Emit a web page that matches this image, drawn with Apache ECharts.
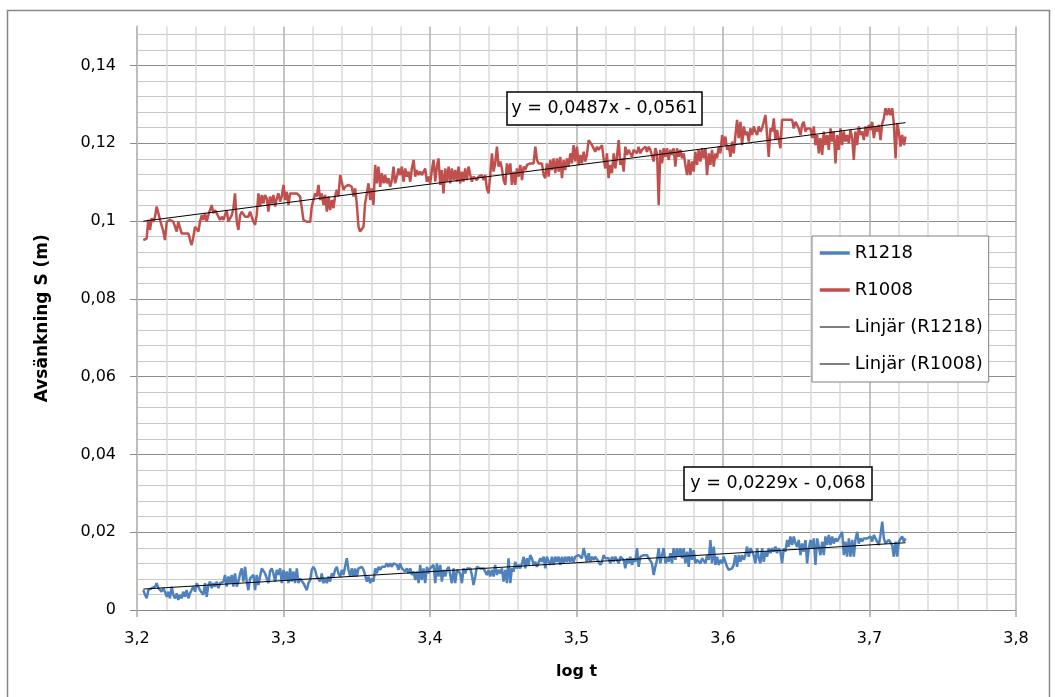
<!DOCTYPE html>
<html>
<head>
<meta charset="utf-8">
<script src="https://cdn.jsdelivr.net/npm/echarts@6.0.0/dist/echarts.min.js"></script>
<style>
html,body{margin:0;padding:0;background:#fff;}
#chart{width:1055px;height:697px;}
</style>
</head>
<body>
<div id="chart"></div>
<script>
// log t values (shared sampling of both series)
const logT = [
3.2043,3.2055,3.2066,3.2077,3.2089,3.2100,3.2112,3.2123,3.2134,3.2146,
3.2157,3.2168,3.2180,3.2191,3.2203,3.2214,3.2225,3.2237,3.2248,3.2260,
3.2271,3.2282,3.2294,3.2305,3.2316,3.2328,3.2339,3.2351,3.2362,3.2373,
3.2385,3.2396,3.2408,3.2419,3.2430,3.2442,3.2453,3.2464,3.2476,3.2487,
3.2499,3.2510,3.2521,3.2533,3.2544,3.2556,3.2567,3.2578,3.2590,3.2601,
3.2612,3.2624,3.2635,3.2647,3.2658,3.2669,3.2681,3.2692,3.2704,3.2715,
3.2726,3.2738,3.2749,3.2760,3.2772,3.2783,3.2795,3.2806,3.2817,3.2829,
3.2840,3.2852,3.2863,3.2874,3.2886,3.2897,3.2908,3.2920,3.2931,3.2943,
3.2954,3.2965,3.2977,3.2988,3.3000,3.3011,3.3022,3.3034,3.3045,3.3056,
3.3068,3.3079,3.3091,3.3102,3.3113,3.3125,3.3136,3.3148,3.3159,3.3170,
3.3182,3.3193,3.3204,3.3216,3.3227,3.3239,3.3250,3.3261,3.3273,3.3284,
3.3296,3.3307,3.3318,3.3330,3.3341,3.3352,3.3364,3.3375,3.3387,3.3398,
3.3409,3.3421,3.3432,3.3444,3.3455,3.3466,3.3478,3.3489,3.3500,3.3512,
3.3523,3.3535,3.3546,3.3557,3.3569,3.3580,3.3592,3.3603,3.3614,3.3626,
3.3637,3.3648,3.3660,3.3671,3.3683,3.3694,3.3705,3.3717,3.3728,3.3740,
3.3751,3.3762,3.3774,3.3785,3.3796,3.3808,3.3819,3.3831,3.3842,3.3853,
3.3865,3.3876,3.3888,3.3899,3.3910,3.3922,3.3933,3.3944,3.3956,3.3967,
3.3979,3.3990,3.4001,3.4013,3.4024,3.4036,3.4047,3.4058,3.4070,3.4081,
3.4092,3.4104,3.4115,3.4127,3.4138,3.4149,3.4161,3.4172,3.4184,3.4195,
3.4206,3.4218,3.4229,3.4240,3.4252,3.4263,3.4275,3.4286,3.4297,3.4309,
3.4320,3.4332,3.4343,3.4354,3.4366,3.4377,3.4388,3.4400,3.4411,3.4423,
3.4434,3.4445,3.4457,3.4468,3.4480,3.4491,3.4502,3.4514,3.4525,3.4536,
3.4548,3.4559,3.4571,3.4582,3.4593,3.4605,3.4616,3.4628,3.4639,3.4650,
3.4662,3.4673,3.4684,3.4696,3.4707,3.4719,3.4730,3.4741,3.4753,3.4764,
3.4776,3.4787,3.4798,3.4810,3.4821,3.4832,3.4844,3.4855,3.4867,3.4878,
3.4889,3.4901,3.4912,3.4923,3.4935,3.4946,3.4958,3.4969,3.4980,3.4992,
3.5003,3.5015,3.5026,3.5037,3.5049,3.5060,3.5071,3.5083,3.5094,3.5106,
3.5117,3.5128,3.5140,3.5151,3.5163,3.5174,3.5185,3.5197,3.5208,3.5219,
3.5231,3.5242,3.5254,3.5265,3.5276,3.5288,3.5299,3.5311,3.5322,3.5333,
3.5345,3.5356,3.5367,3.5379,3.5390,3.5402,3.5413,3.5424,3.5436,3.5447,
3.5459,3.5470,3.5481,3.5493,3.5504,3.5515,3.5527,3.5538,3.5550,3.5561,
3.5572,3.5584,3.5595,3.5607,3.5618,3.5629,3.5641,3.5652,3.5663,3.5675,
3.5686,3.5698,3.5709,3.5720,3.5732,3.5743,3.5755,3.5766,3.5777,3.5789,
3.5800,3.5811,3.5823,3.5834,3.5846,3.5857,3.5868,3.5880,3.5891,3.5903,
3.5914,3.5925,3.5937,3.5948,3.5959,3.5971,3.5982,3.5994,3.6005,3.6016,
3.6028,3.6039,3.6051,3.6062,3.6073,3.6085,3.6096,3.6107,3.6119,3.6130,
3.6142,3.6153,3.6164,3.6176,3.6187,3.6199,3.6210,3.6221,3.6233,3.6244,
3.6255,3.6267,3.6278,3.6290,3.6301,3.6312,3.6324,3.6335,3.6347,3.6358,
3.6369,3.6381,3.6392,3.6403,3.6415,3.6426,3.6438,3.6449,3.6460,3.6472,
3.6483,3.6495,3.6506,3.6517,3.6529,3.6540,3.6551,3.6563,3.6574,3.6586,
3.6597,3.6608,3.6620,3.6631,3.6643,3.6654,3.6665,3.6677,3.6688,3.6699,
3.6711,3.6722,3.6734,3.6745,3.6756,3.6768,3.6779,3.6791,3.6802,3.6813,
3.6825,3.6836,3.6847,3.6859,3.6870,3.6882,3.6893,3.6904,3.6916,3.6927,
3.6939,3.6950,3.6961,3.6973,3.6984,3.6995,3.7007,3.7018,3.7030,3.7041,
3.7052,3.7064,3.7075,3.7087,3.7098,3.7109,3.7121,3.7132,3.7143,3.7155,
3.7166,3.7178,3.7189,3.7200,3.7212,3.7223,3.7235,3.7246
];

// Avsänkning R1008 (m)
const r1008 = [
0.0951,0.0951,0.0955,0.1003,0.0977,0.1007,0.0998,0.1011,0.1037,0.1020,
0.1003,0.0998,0.0973,0.0951,0.0998,0.1003,0.1003,0.1003,0.0998,0.0998,
0.0973,0.0998,0.0998,0.0968,0.0968,0.0968,0.0973,0.0968,0.0951,0.0938,
0.0960,0.0985,0.0990,0.0973,0.0998,0.1015,0.1003,0.1020,0.0998,0.1015,
0.1020,0.1041,0.1020,0.1028,0.1020,0.1024,0.1003,0.1011,0.1003,0.0998,
0.1028,0.0998,0.1007,0.1015,0.1033,0.1071,0.0998,0.0977,0.1015,0.1024,
0.1020,0.1011,0.1011,0.1011,0.1024,0.1011,0.0998,0.0990,0.1015,0.1071,
0.1037,0.1067,0.1045,0.1067,0.1058,0.1024,0.1063,0.1045,0.1067,0.1037,
0.1058,0.1071,0.1050,0.1063,0.1093,0.1054,0.1075,0.1041,0.1071,0.1071,
0.1071,0.1071,0.1071,0.1071,0.1063,0.1033,0.1003,0.0998,0.0998,0.0998,
0.0998,0.1037,0.1054,0.1071,0.1063,0.1093,0.1054,0.1071,0.1041,0.1067,
0.1024,0.1063,0.1028,0.1054,0.1033,0.1063,0.1080,0.1063,0.1118,0.1101,
0.1080,0.1088,0.1093,0.1093,0.1088,0.1088,0.1063,0.1084,0.1045,0.0985,
0.0973,0.0973,0.0985,0.1045,0.1071,0.1097,0.1054,0.1084,0.1041,0.1144,
0.1097,0.1140,0.1088,0.1123,0.1097,0.1118,0.1097,0.1110,0.1088,0.1105,
0.1140,0.1097,
0.1114,0.1135,0.1118,0.1140,0.1101,0.1135,0.1114,0.1127,0.1101,0.1135,
0.1157,0.1114,0.1131,0.1118,0.1127,0.1118,0.1114,0.1135,0.1101,0.1114,
0.1097,0.1131,0.1157,0.1101,0.1140,0.1161,0.1093,0.1131,0.1071,0.1135,
0.1101,0.1140,0.1097,0.1135,0.1105,0.1131,0.1101,0.1140,0.1097,0.1127,
0.1101,0.1135,0.1105,0.1140,0.1118,0.1101,0.1114,0.1110,0.1105,0.1114,
0.1110,0.1118,0.1105,0.1118,0.1084,0.1071,0.1118,0.1174,0.1127,0.1148,
0.1191,0.1140,0.1153,0.1135,0.1105,0.1093,0.1148,0.1123,0.1148,0.1093,
0.1127,0.1093,0.1135,0.1114,0.1144,0.1105,0.1140,0.1131,0.1144,0.1140,
0.1148,0.1144,0.1148,0.1191,0.1157,0.1148,0.1144,0.1148,0.1118,0.1110,
0.1148,0.1114,0.1157,0.1131,0.1161,0.1123,0.1161,0.1127,0.1165,0.1110,
0.1157,0.1131,0.1161,0.1140,0.1174,0.1148,0.1195,0.1153,0.1191,0.1144,
0.1170,0.1148,0.1178,0.1153,0.1170,0.1208,0.1213,0.1195,0.1195,0.1178,
0.1191,0.1183,0.1187,0.1195,0.1161,0.1135,0.1174,0.1110,0.1144,0.1123,
0.1174,0.1135,0.1165,0.1208,0.1144,0.1161,0.1127,0.1191,0.1170,0.1183,
0.1174,0.1165,0.1183,0.1187,0.1174,0.1191,0.1174,0.1183,0.1178,0.1191,
0.1178,0.1191,0.1183,
0.1183,0.1153,0.1187,0.1174,0.1041,0.1183,0.1148,0.1187,0.1165,0.1187,
0.1157,0.1183,0.1170,0.1187,0.1140,0.1187,0.1165,0.1183,0.1161,0.1174,
0.1144,0.1118,0.1157,0.1118,0.1153,0.1127,0.1178,0.1144,0.1183,0.1153,
0.1187,0.1161,0.1187,0.1118,0.1174,0.1144,0.1183,0.1140,0.1174,0.1161,
0.1191,0.1174,0.1221,0.1195,0.1217,0.1183,0.1195,0.1165,0.1204,0.1174,
0.1221,0.1260,0.1213,0.1255,0.1195,0.1243,0.1221,0.1230,0.1204,0.1238,
0.1221,0.1243,0.1230,0.1221,0.1243,0.1230,0.1238,0.1255,0.1272,0.1221,
0.1165,0.1238,0.1230,0.1264,0.1208,0.1234,0.1208,0.1187,0.1260,0.1255,
0.1260,0.1255,0.1260,0.1255,0.1260,0.1238,0.1255,0.1260,0.1238,0.1221,
0.1247,0.1255,0.1230,0.1238,0.1243,0.1238,0.1213,0.1243,0.1195,0.1221,
0.1174,0.1213,0.1170,0.1230,0.1195,0.1221,0.1183,0.1238,0.1204,0.1230,
0.1148,0.1221,0.1183,0.1238,0.1195,0.1230,0.1204,0.1221,0.1200,0.1234,
0.1213,0.1157,0.1230,0.1195,0.1243,0.1221,0.1230,0.1208,0.1243,0.1217,
0.1247,0.1234,0.1255,0.1213,0.1243,0.1230,0.1247,0.1208,0.1251,0.1264,
0.1290,0.1272,0.1290,0.1272,0.1290,0.1251,0.1161,0.1251,0.1230,0.1191,
0.1221,0.1195,0.1217
];

// Avsänkning R1218 (m)
const r1218 = [
0.0051,0.0039,0.0030,0.0051,0.0047,0.0056,0.0051,0.0060,0.0069,0.0056,
0.0051,0.0047,0.0056,0.0047,0.0034,0.0047,0.0030,0.0060,0.0039,0.0030,
0.0043,0.0026,0.0039,0.0030,0.0047,0.0034,0.0051,0.0030,0.0043,0.0039,
0.0060,0.0047,0.0069,0.0060,0.0051,0.0047,0.0039,0.0069,0.0034,0.0064,
0.0073,0.0056,0.0069,0.0060,0.0073,0.0056,0.0069,0.0064,0.0073,0.0090,
0.0060,0.0086,0.0069,0.0090,0.0060,0.0094,0.0060,0.0073,0.0094,0.0107,
0.0073,0.0111,0.0073,0.0051,0.0081,0.0077,0.0090,0.0051,0.0090,0.0064,
0.0086,0.0107,0.0107,0.0094,0.0081,0.0069,0.0099,0.0107,0.0094,0.0073,
0.0103,0.0090,0.0107,0.0069,0.0103,0.0077,0.0099,0.0069,0.0107,0.0073,
0.0099,0.0069,0.0107,0.0069,0.0081,0.0077,0.0069,0.0060,0.0051,0.0069,
0.0077,0.0103,0.0111,0.0103,0.0086,0.0086,0.0073,0.0094,0.0069,0.0081,
0.0069,0.0086,0.0073,0.0094,0.0086,0.0103,0.0111,0.0094,0.0086,0.0103,
0.0090,0.0094,0.0133,0.0103,0.0086,0.0107,0.0086,0.0107,0.0086,0.0107,
0.0107,0.0111,0.0103,0.0090,0.0073,0.0086,0.0069,0.0081,0.0073,0.0107,
0.0094,0.0111,0.0103,0.0111,0.0116,0.0111,0.0120,0.0111,0.0120,0.0111,
0.0120,0.0116,
0.0116,0.0103,0.0120,0.0107,0.0111,0.0099,0.0107,0.0094,0.0107,0.0090,
0.0099,0.0077,0.0099,0.0069,0.0116,0.0077,0.0107,0.0069,0.0111,0.0094,
0.0107,0.0107,0.0116,0.0069,0.0120,0.0086,0.0116,0.0073,0.0103,0.0086,
0.0103,0.0111,0.0090,0.0069,0.0107,0.0069,0.0103,0.0107,0.0094,0.0069,
0.0107,0.0094,0.0107,0.0103,0.0107,0.0090,0.0064,0.0086,0.0111,0.0107,
0.0107,0.0107,0.0107,0.0107,0.0090,0.0103,0.0086,0.0103,0.0086,0.0116,
0.0090,0.0103,0.0094,0.0107,0.0073,0.0103,0.0069,0.0133,0.0069,0.0107,
0.0099,0.0124,0.0107,0.0116,0.0107,0.0120,0.0137,0.0107,0.0133,0.0116,
0.0141,0.0133,0.0116,0.0124,0.0111,0.0107,0.0133,0.0124,0.0137,0.0107,
0.0137,0.0124,0.0116,0.0137,0.0116,0.0137,0.0124,0.0137,0.0116,0.0137,
0.0120,0.0137,0.0124,0.0137,0.0124,0.0137,0.0124,0.0137,0.0133,0.0141,
0.0137,0.0133,0.0159,0.0141,0.0124,0.0146,0.0124,0.0137,0.0129,0.0137,
0.0133,0.0124,0.0116,0.0124,0.0141,0.0133,0.0137,0.0133,0.0120,0.0137,
0.0124,0.0137,0.0133,0.0120,0.0137,0.0133,0.0129,0.0107,0.0133,0.0120,
0.0137,0.0116,0.0133,0.0124,0.0159,0.0111,0.0137,0.0133,0.0141,0.0137,
0.0141,0.0133,0.0137,
0.0120,0.0090,0.0111,0.0129,0.0159,0.0120,0.0141,0.0159,0.0120,0.0133,
0.0124,0.0146,0.0120,0.0159,0.0129,0.0159,0.0137,0.0159,0.0133,0.0159,
0.0120,0.0150,0.0111,0.0159,0.0129,0.0154,0.0120,0.0129,0.0129,0.0120,
0.0133,0.0129,0.0120,0.0141,0.0129,0.0180,0.0120,0.0163,0.0116,0.0137,
0.0116,0.0129,0.0120,0.0137,0.0124,0.0111,0.0103,0.0099,0.0107,0.0116,
0.0141,0.0111,0.0141,0.0124,0.0141,0.0129,0.0141,0.0163,0.0137,0.0159,
0.0150,0.0141,0.0120,0.0159,0.0133,0.0120,0.0159,0.0124,0.0150,0.0137,
0.0159,0.0146,0.0159,0.0150,0.0163,0.0146,0.0159,0.0150,0.0120,0.0159,
0.0150,0.0180,0.0163,0.0189,0.0167,0.0189,0.0171,0.0163,0.0180,0.0141,
0.0171,0.0150,0.0180,0.0120,0.0159,0.0180,0.0159,0.0184,0.0116,0.0184,
0.0189,0.0141,0.0176,0.0141,0.0189,0.0167,0.0193,0.0167,0.0189,0.0171,
0.0184,0.0176,0.0184,0.0180,0.0201,0.0141,0.0176,0.0137,0.0184,0.0137,
0.0180,0.0137,0.0180,0.0201,0.0171,0.0184,0.0176,0.0184,0.0180,0.0184,
0.0180,0.0189,0.0176,0.0193,0.0184,0.0189,0.0167,0.0193,0.0227,0.0184,
0.0171,0.0176,0.0180,0.0184,0.0167,0.0137,0.0176,0.0137,0.0176,0.0180,
0.0189,0.0176,0.0184
];

// Linear trendlines as given in the chart: [R1218, R1008]
const trendSlope = [0.0229, 0.0487];
const trendIntercept = [-0.068, -0.0561];
const trendLabels = ['y = 0,0229x - 0,068', 'y = 0,0487x - 0,0561'];

// Axis ticks
const yTickValues = [0, 0.02, 0.04, 0.06, 0.08, 0.1, 0.12, 0.14];
const xTickValues = [3.2, 3.3, 3.4, 3.5, 3.6, 3.7, 3.8];

const seriesNames = ['R1218', 'R1008', 'Linjär (R1218)', 'Linjär (R1008)'];

function pairs(xs, ys) {
  const out = [];
  const n = Math.min(xs.length, ys.length);
  for (let i = 0; i < n; i++) out.push([xs[i], ys[i]]);
  return out;
}
function trend(k) {
  const x0 = logT[0], x1 = logT[logT.length - 1];
  return [[x0, trendSlope[k] * x0 + trendIntercept[k]], [x1, trendSlope[k] * x1 + trendIntercept[k]]];
}
const FONT = 'DejaVu Sans';
const commaFmt = (v, d) => String(+v.toFixed(d)).replace('.', ',');

const chart = echarts.init(document.getElementById('chart'), null, {renderer: 'canvas'});
const option = {
  animation: false,
  backgroundColor: '#ffffff',
  textStyle: {fontFamily: FONT},
  grid: {left: 137, right: 39, top: 26.5, bottom: 87, containLabel: false},
  legend: {
    orient: 'vertical',
    left: 812, top: 236,
    data: [
      {name: seriesNames[0], lineStyle: {width: 3.5}},
      {name: seriesNames[1], lineStyle: {width: 3.5}},
      {name: seriesNames[2], lineStyle: {width: 1}},
      {name: seriesNames[3], lineStyle: {width: 1}}
    ],
    itemWidth: 30, itemHeight: 14, itemGap: 17,
    padding: [7, 6, 8, 6],
    backgroundColor: '#ffffff',
    borderColor: '#808080', borderWidth: 1,
    itemStyle: {opacity: 0},
    textStyle: {fontFamily: FONT, fontSize: 18, color: '#000', lineHeight: 20},
    selectedMode: false,
    z: 20
  },
  xAxis: [
    {
      type: 'value', min: 3.2, max: 3.8, interval: 0.02, position: 'bottom',
      axisLine: {show: false}, axisTick: {show: false}, axisLabel: {show: false},
      splitLine: {show: true, lineStyle: {color: ['#b0b0b0', '#dadada', '#dadada', '#dadada', '#dadada'], width: 1.5}}
    },
    {
      type: 'value', min: 3.2, max: 3.8, interval: 0.1, position: 'bottom',
      axisLine: {show: true, onZero: false, lineStyle: {color: '#8a8a8a', width: 1}},
      axisTick: {show: true, inside: false, length: 7, lineStyle: {color: '#a8a8a8', width: 1.5}},
      axisLabel: {margin: 21, fontFamily: FONT, fontSize: 16, color: '#000', formatter: v => commaFmt(v, 1)},
      splitLine: {show: false},
      name: 'log t', nameLocation: 'middle', nameGap: 54,
      nameTextStyle: {fontFamily: FONT, fontSize: 16, fontWeight: 'bold', color: '#000'}
    }
  ],
  yAxis: [
    {
      type: 'value', min: 0, max: 0.15, interval: 0.004,
      axisLine: {show: false}, axisTick: {show: false}, axisLabel: {show: false},
      splitLine: {show: true, showMaxLine: false, lineStyle: {color: ['#8c8c8c', '#c8c8c8', '#c8c8c8', '#c8c8c8', '#c8c8c8'], width: 1}}
    },
    {
      type: 'value', min: 0, max: 0.15, interval: 0.02, position: 'left',
      axisLine: {show: true, lineStyle: {color: '#bdbdbd', width: 2}},
      axisTick: {show: true, inside: false, length: 7, lineStyle: {color: '#8c8c8c', width: 1}, customValues: yTickValues},
      axisLabel: {
        margin: 21, fontFamily: FONT, fontSize: 16, color: '#000', customValues: yTickValues,
        formatter: v => (Math.abs(v / 0.02 - Math.round(v / 0.02)) > 1e-6 ? '' : commaFmt(v, 2))
      },
      splitLine: {show: false},
      name: 'Avsänkning S (m)', nameLocation: 'middle', nameGap: 86,
      nameTextStyle: {fontFamily: FONT, fontSize: 17, fontWeight: 'bold', color: '#000'}
    }
  ],
  series: [
    {name: seriesNames[0], type: 'line', xAxisIndex: 1, yAxisIndex: 1, data: pairs(logT, r1218),
     showSymbol: false, symbol: 'none', lineStyle: {color: '#4F81BD', width: 2.5}, itemStyle: {color: '#4F81BD'}},
    {name: seriesNames[1], type: 'line', xAxisIndex: 1, yAxisIndex: 1, data: pairs(logT, r1008),
     showSymbol: false, symbol: 'none', lineStyle: {color: '#C0504D', width: 2.5}, itemStyle: {color: '#C0504D'}},
    {name: seriesNames[2], type: 'line', xAxisIndex: 1, yAxisIndex: 1, data: trend(0),
     showSymbol: false, symbol: 'none', lineStyle: {color: '#000', width: 1}, itemStyle: {color: '#000'}},
    {name: seriesNames[3], type: 'line', xAxisIndex: 1, yAxisIndex: 1, data: trend(1),
     showSymbol: false, symbol: 'none', lineStyle: {color: '#000', width: 1}, itemStyle: {color: '#000'}}
  ],
  graphic: [
    {type: 'rect', silent: true, z: -10, shape: {x: 7.5, y: 10.5, width: 1042, height: 720},
     style: {fill: 'none', stroke: '#878787', lineWidth: 1.5}},
    {type: 'rect', silent: true, z: 100, shape: {x: 507, y: 92, width: 195, height: 33},
     style: {fill: '#ffffff', stroke: '#000', lineWidth: 1.5}},
    {type: 'text', silent: true, z: 101, x: 604.5, y: 108.5,
     style: {text: trendLabels[1], fontFamily: FONT, fontSize: 17.5, fill: '#000',
       align: 'center', verticalAlign: 'middle', textAlign: 'center', textVerticalAlign: 'middle'}},
    {type: 'rect', silent: true, z: 100, shape: {x: 684, y: 467, width: 188, height: 33},
     style: {fill: '#ffffff', stroke: '#000', lineWidth: 1.5}},
    {type: 'text', silent: true, z: 101, x: 778, y: 483.5,
     style: {text: trendLabels[0], fontFamily: FONT, fontSize: 17.5, fill: '#000',
       align: 'center', verticalAlign: 'middle', textAlign: 'center', textVerticalAlign: 'middle'}}
  ]
};
chart.setOption(option);
</script>
</body>
</html>
